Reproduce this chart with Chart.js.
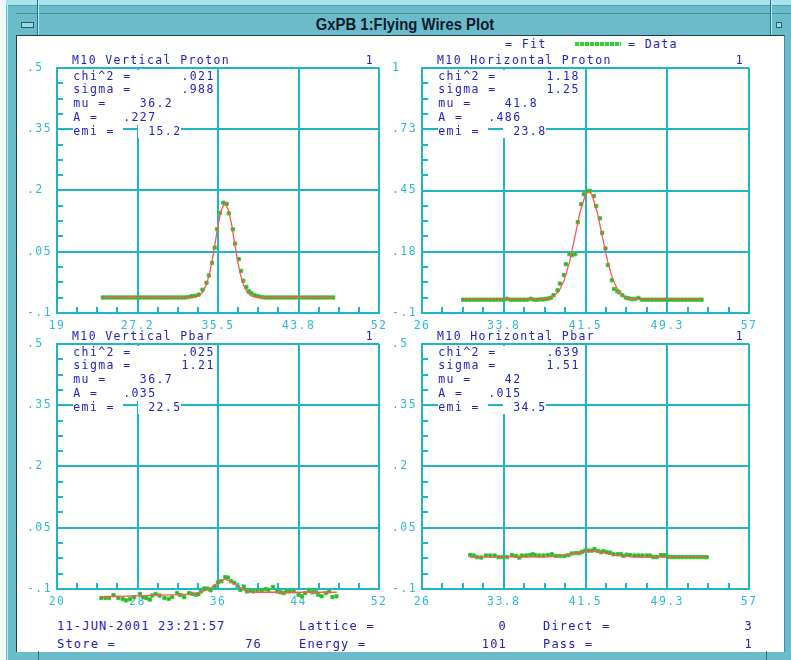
<!DOCTYPE html>
<html><head><meta charset="utf-8">
<script src="https://cdn.jsdelivr.net/npm/chart.js@4.4.1/dist/chart.umd.min.js"></script>
<style>
html,body{margin:0;padding:0;}
body{width:791px;height:660px;position:relative;overflow:hidden;background:#6bbccb;}
.abs{position:absolute;}
.mono{position:absolute;font-family:'DejaVu Sans Mono',monospace;font-size:11.5px;letter-spacing:1.4px;color:#2222c2;line-height:13px;white-space:pre;}
.stat{position:absolute;font-family:'DejaVu Sans Mono',monospace;font-size:12px;letter-spacing:1.2px;color:#2020bc;line-height:14px;white-space:pre;}
canvas{position:absolute;}
#ttl{position:absolute;left:39px;top:14px;width:731px;height:21px;line-height:21px;text-align:center;}
#ttl span{display:inline-block;transform:scaleX(0.93);font-family:'Liberation Sans',sans-serif;font-weight:bold;font-size:16px;color:#0d1a2a;}
</style></head>
<body>
<div class="abs" style="left:0;top:0;width:791px;height:5px;background:#a9e2ea"></div>
<div class="abs" style="left:0;top:0;width:6px;height:660px;background:#eef9fb"></div>
<div class="abs" style="left:7px;top:5px;width:784px;height:1px;background:#4f9fad"></div>
<div class="abs" style="left:7px;top:5px;width:1px;height:655px;background:#b5ecf2"></div>
<div class="abs" style="left:16px;top:13px;width:775px;height:1px;background:#3f8f9d"></div>
<div class="abs" style="left:37px;top:0;width:1px;height:36px;background:#2f6f7a"></div>
<div class="abs" style="left:38px;top:0;width:1px;height:36px;background:#b5ecf2"></div>
<div class="abs" style="left:770px;top:0;width:1px;height:36px;background:#2f6f7a"></div>
<div class="abs" style="left:771px;top:0;width:1px;height:36px;background:#b5ecf2"></div>
<div class="abs" style="left:21px;top:22px;width:11px;height:4px;background:#9ad8e2;border:1px solid #2c5c66"></div>
<div class="abs" style="left:776px;top:22px;width:4px;height:4px;background:#9ad8e2;border:1px solid #2c5c66"></div>
<div id="ttl"><span>GxPB 1:Flying Wires Plot</span></div>
<div class="abs" style="left:16px;top:35px;width:767px;height:616px;background:#ffffff;border-left:1px solid #1f3d44;border-top:1px solid #1f3d44;border-right:1px solid #3f8f9d"></div>
<div class="abs" style="left:38px;top:651px;width:1px;height:9px;background:#2f6f7a"></div>
<div class="abs" style="left:766px;top:651px;width:1px;height:9px;background:#2f6f7a"></div>

<div class="mono" style="left:505px;top:38px">= Fit</div>
<div class="abs" style="left:575px;top:42px;width:46px;height:4px;background:repeating-linear-gradient(90deg,#2bd42b 0 4px,#ffffff 4px 5px)"></div>
<div class="mono" style="left:628px;top:38px">= Data</div>

<canvas id="c1" width="365" height="285" style="left:27px;top:50px"></canvas>
<canvas id="c2" width="378" height="285" style="left:392px;top:50px"></canvas>
<canvas id="c3" width="365" height="285" style="left:27px;top:326px"></canvas>
<canvas id="c4" width="378" height="285" style="left:392px;top:326px"></canvas>

<div class="stat" style="left:57px;top:619px">11-JUN-2001 23:21:57</div>
<div class="stat" style="left:299px;top:619px">Lattice =</div>
<div class="stat" style="right:284px;top:619px">0</div>
<div class="stat" style="left:543px;top:619px">Direct =</div>
<div class="stat" style="right:38px;top:619px">3</div>
<div class="stat" style="left:57px;top:637px">Store =</div>
<div class="stat" style="right:529px;top:637px">76</div>
<div class="stat" style="left:299px;top:637px">Energy =</div>
<div class="stat" style="right:284px;top:637px">101</div>
<div class="stat" style="left:543px;top:637px">Pass =</div>
<div class="stat" style="right:38px;top:637px">1</div>

<script>
// ---------- data ----------
const statNames = ['chi^2 =', 'sigma =', 'mu =', 'A =', 'emi ='];

// Panel 1: M10 Vertical Proton
const vpTitle = 'M10 Vertical Proton';
const vpStats = ['.021', '.988', '36.2', '.227', '15.2'];
const vpXTicks = [19, 27.25, 35.5, 43.75, 52];
const vpXLabels = ['19', '27.2', '35.5', '43.8', '52'];
const vpX = [23.7, 24.05, 24.4, 24.75, 25.1, 25.45, 25.8, 26.15, 26.5, 26.85, 27.2, 27.55, 27.9, 28.25, 28.6, 28.95, 29.3, 29.65, 30.0, 30.35, 30.7, 31.05, 31.4, 31.75, 32.1, 32.45,
  32.8, 33.14, 33.51, 33.91, 34.32, 34.56, 34.89, 35.16, 35.4, 35.7, 36.04, 36.38, 36.61, 37.01, 37.25, 37.62, 37.86, 38.09, 38.4, 38.66, 38.93, 39.27, 39.61,
  39.95, 40.3, 40.65, 41.0, 41.35, 41.7, 42.05, 42.4, 42.75, 43.1, 43.45, 43.8, 44.15, 44.5, 44.85, 45.2, 45.55, 45.9, 46.25, 46.6, 46.95, 47.3];
const vpY = [-0.062, -0.062, -0.062, -0.062, -0.062, -0.062, -0.062, -0.062, -0.062, -0.062, -0.062, -0.062, -0.062, -0.062, -0.062, -0.062, -0.062, -0.062, -0.062, -0.062, -0.062, -0.062, -0.062, -0.062, -0.062, -0.061,
  -0.059, -0.058, -0.055, -0.043, -0.026, -0.008, 0.023, 0.060, 0.105, 0.145, 0.170, 0.167, 0.144, 0.105, 0.070, 0.032, 0.003, -0.021, -0.036, -0.047, -0.052, -0.057, -0.059,
  -0.061, -0.062, -0.062, -0.062, -0.062, -0.062, -0.062, -0.062, -0.062, -0.062, -0.062, -0.062, -0.062, -0.062, -0.062, -0.062, -0.062, -0.062, -0.062, -0.062, -0.062, -0.062];
const vpFitX = [23.7, 32.8, 33.5, 33.9, 34.3, 34.6, 34.9, 35.2, 35.5, 35.8, 36.2, 36.6, 36.9, 37.2, 37.5, 37.8, 38.1, 38.5, 38.9, 39.6, 47.3];
const vpFitY = [-0.062, -0.062, -0.058, -0.050, -0.031, -0.006, 0.029, 0.071, 0.115, 0.150, 0.170, 0.150, 0.115, 0.071, 0.029, -0.006, -0.031, -0.050, -0.058, -0.062, -0.062];

// Panel 2: M10 Horizontal Proton
const hpTitle = 'M10 Horizontal Proton';
const hpStats = ['1.18', '1.25', '41.8', '.486', '23.8'];
const hpXTicks = [26, 33.75, 41.5, 49.25, 57];
const hpXLabels = ['26', '33.8', '41.5', '49.3', '57'];
const hpYTicks = [-0.1, 0.175, 0.45, 0.725, 1];
const hpYLabels = ['-.1', '.18', '.45', '.73', '1'];
const hpX = [29.9, 30.22, 30.54, 30.86, 31.18, 31.5, 31.82, 32.14, 32.46, 32.78, 33.1, 33.42, 33.74, 34.06, 34.38, 34.7, 35.02, 35.34, 35.66, 35.98, 36.3, 36.62, 36.94, 37.26, 37.5,
  37.74, 37.99, 38.22, 38.47, 38.85, 39.07, 39.45, 39.64, 39.98, 40.21, 40.52, 40.77, 41.09, 41.34, 41.66, 41.91, 42.29, 42.51, 42.86, 43.08, 43.39, 43.62, 44.0, 44.21, 44.5, 44.69, 45.0, 45.32, 45.57, 45.89, 46.2, 46.52,
  46.84, 47.16, 47.48, 47.8, 48.12, 48.44, 48.76, 49.08, 49.4, 49.72, 50.04, 50.36, 50.68, 51.0, 51.32, 51.64, 51.96, 52.28, 52.5];
const hpY = [-0.040, -0.040, -0.040, -0.040, -0.040, -0.040, -0.040, -0.040, -0.040, -0.040, -0.040, -0.040, -0.040, -0.036, -0.040, -0.040, -0.040, -0.040, -0.040, -0.040, -0.036, -0.040, -0.040, -0.039, -0.039,
  -0.037, -0.035, -0.031, -0.020, 0.002, 0.032, 0.070, 0.119, 0.164, 0.160, 0.164, 0.308, 0.389, 0.433, 0.448, 0.448, 0.425, 0.380, 0.325, 0.260, 0.190, 0.115, 0.047, 0.008, -0.002, -0.007, -0.020, -0.031, -0.034, -0.038, -0.037, -0.032,
  -0.040, -0.040, -0.040, -0.040, -0.040, -0.040, -0.040, -0.040, -0.040, -0.040, -0.040, -0.040, -0.040, -0.040, -0.040, -0.040, -0.040, -0.040, -0.040];
const hpFitX = [29.9, 37.0, 38.0, 38.5, 39.0, 39.5, 40.0, 40.5, 41.0, 41.5, 41.8, 42.1, 42.6, 43.1, 43.6, 44.1, 44.6, 45.1, 45.6, 46.6, 52.5];
const hpFitY = [-0.038, -0.038, -0.035, -0.025, 0.000, 0.049, 0.132, 0.243, 0.356, 0.432, 0.446, 0.432, 0.356, 0.243, 0.132, 0.049, 0.000, -0.025, -0.035, -0.038, -0.038];

// Panel 3: M10 Vertical Pbar
const vbTitle = 'M10 Vertical Pbar';
const vbStats = ['.025', '1.21', '36.7', '.035', '22.5'];
const vbXTicks = [20, 28, 36, 44, 52];
const vbXLabels = ['20', '28', '36', '44', '52'];
const vbX = [24.41, 24.83, 25.16, 25.61, 26.10, 26.53, 26.86, 27.25, 27.67, 28.23, 28.55, 28.88, 29.21, 29.47, 29.80, 30.19, 30.68, 31.10, 31.43, 31.92, 32.24, 32.64, 33.13, 33.45, 33.81, 34.04, 34.30, 34.63, 34.95, 35.25, 35.67, 36.00, 36.33, 36.72, 36.98, 37.31, 37.63, 37.96, 38.22, 38.55, 38.87, 39.17, 39.50, 39.92, 40.34, 40.74, 41.00, 41.45, 41.88, 42.21, 42.53, 42.79, 43.12, 43.51, 44.00, 44.33, 44.66, 45.05, 45.37, 45.70, 45.96, 46.29, 46.71, 47.04, 47.37, 47.76];
const vbY = [-0.122, -0.122, -0.122, -0.115, -0.122, -0.125, -0.128, -0.125, -0.120, -0.112, -0.120, -0.122, -0.126, -0.116, -0.112, -0.116, -0.122, -0.124, -0.120, -0.110, -0.115, -0.120, -0.110, -0.112, -0.114, -0.113, -0.106, -0.099, -0.099, -0.103, -0.094, -0.084, -0.081, -0.071, -0.072, -0.081, -0.085, -0.094, -0.102, -0.094, -0.106, -0.104, -0.106, -0.103, -0.103, -0.100, -0.102, -0.095, -0.106, -0.108, -0.110, -0.106, -0.106, -0.106, -0.114, -0.118, -0.110, -0.102, -0.108, -0.107, -0.114, -0.118, -0.110, -0.106, -0.120, -0.118];
const vbFitX = [24.41, 28.0, 32.0, 33.5, 34.5, 35.3, 36.0, 36.7, 37.3, 38.0, 38.7, 39.3, 44.0, 47.8];
const vbFitY = [-0.119, -0.117, -0.114, -0.112, -0.106, -0.097, -0.084, -0.076, -0.082, -0.094, -0.104, -0.108, -0.108, -0.108];

// Panel 4: M10 Horizontal Pbar
const hbTitle = 'M10 Horizontal Pbar';
const hbStats = ['.639', '1.51', '42', '.015', '34.5'];
const hbXTicks = [26, 33.75, 41.5, 49.25, 57];
const hbXLabels = ['26', '33.8', '41.5', '49.3', '57'];
const hbX = [30.57, 30.89, 31.21, 31.62, 32.06, 32.47, 32.88, 33.26, 33.64, 34.05, 34.52, 34.90, 35.22, 35.47, 35.88, 36.26, 36.51, 36.73, 37.11, 37.52, 37.93, 38.31, 38.69, 39.10, 39.51, 39.89, 40.20, 40.58, 40.90, 41.15, 41.47, 41.78, 42.10, 42.35, 42.67, 42.98, 43.20, 43.52, 43.83, 44.15, 44.56, 44.88, 45.10, 45.41, 45.73, 46.14, 46.52, 46.90, 47.31, 47.62, 47.94, 48.26, 48.67, 48.98, 49.30, 49.68,
  50.0, 50.35, 50.7, 51.05, 51.4, 51.75, 52.1, 52.45, 52.8, 53.0];
const hbY = [-0.017, -0.018, -0.022, -0.023, -0.018, -0.018, -0.018, -0.022, -0.022, -0.022, -0.017, -0.019, -0.023, -0.018, -0.018, -0.017, -0.015, -0.017, -0.018, -0.018, -0.017, -0.015, -0.019, -0.019, -0.019, -0.017, -0.013, -0.012, -0.012, -0.009, -0.006, -0.006, -0.006, -0.002, -0.007, -0.010, -0.007, -0.010, -0.011, -0.015, -0.015, -0.015, -0.019, -0.016, -0.017, -0.018, -0.018, -0.018, -0.018, -0.018, -0.022, -0.022, -0.017, -0.017, -0.021, -0.022,
  -0.022, -0.022, -0.022, -0.022, -0.022, -0.022, -0.022, -0.022, -0.022, -0.022];
const hbFitX = [30.57, 38.0, 39.0, 40.0, 41.0, 42.0, 43.0, 44.0, 45.0, 46.0, 47.0, 53.0];
const hbFitY = [-0.022, -0.021, -0.019, -0.015, -0.010, -0.007, -0.010, -0.015, -0.019, -0.021, -0.022, -0.022];

// shared y ticks for the 0.5 panels
const yTicksA = [-0.1, 0.05, 0.2, 0.35, 0.5];
const yLabelsA = ['-.1', '.05', '.2', '.35', '.5'];

// ---------- styles ----------
const GRID = '#1fb5c8';
const TICK = '#30bad3';
const TEXT = '#2222c2';
const FIT = '#ff5656';
const PT_BORDER = '#2bd42b';
const PT_FILL = '#43a043';
const FONT = { family: "'DejaVu Sans Mono', monospace", size: 11.5 };
const FONT_CSS = "11.5px 'DejaVu Sans Mono', monospace";
const LS = '1.4px';
const ROW_COLS = [13, 13, 8, 6, 9];

function zip(xs, ys) { return xs.map((x, i) => ({ x: x, y: ys[i] })); }

function panelPlugin(p) {
  let saved = null;
  return {
    id: 'panel',
    beforeDraw(chart) { chart.ctx.letterSpacing = LS; },
    beforeDatasetDraw(chart) {
      // let points just outside the plot box (below -.1) still be drawn
      saved = chart.chartArea;
      chart.chartArea = { left: saved.left - 30, top: saved.top - 30, right: saved.right + 30, bottom: saved.bottom + 30,
        width: saved.width + 60, height: saved.height + 60 };
    },
    afterDatasetDraw(chart) { if (saved) { chart.chartArea = saved; saved = null; } },
    afterDraw(chart) {
      const ctx = chart.ctx, a = chart.chartArea;
      const xs = chart.scales.x, ys = chart.scales.y;
      ctx.save();
      ctx.strokeStyle = GRID; ctx.lineWidth = 2;
      ctx.beginPath();
      for (let i = 0; i < p.xTicks.length - 1; i++) {
        for (let k = 1; k < 4; k++) {
          const v = p.xTicks[i] + (p.xTicks[i + 1] - p.xTicks[i]) * k / 4;
          const px = Math.round(xs.getPixelForValue(v));
          ctx.moveTo(px, a.bottom); ctx.lineTo(px, a.bottom - 6);
        }
      }
      for (let i = 0; i < p.yTicks.length - 1; i++) {
        for (let k = 1; k < 4; k++) {
          const v = p.yTicks[i] + (p.yTicks[i + 1] - p.yTicks[i]) * k / 4;
          const py = Math.round(ys.getPixelForValue(v));
          ctx.moveTo(a.left, py); ctx.lineTo(a.left + 6, py);
        }
      }
      ctx.stroke();

      ctx.font = FONT_CSS; ctx.letterSpacing = LS;
      ctx.textBaseline = 'middle';
      ctx.fillStyle = TEXT;
      ctx.textAlign = 'left';
      ctx.fillText(p.title, a.left + 15, a.top - 7);
      ctx.textAlign = 'right';
      ctx.fillText('1', a.right - 5, a.top - 7);
      ctx.textAlign = 'left';

      const PITCH = 8.32, X0 = 16.3, Y0 = 8.8, DY = 13.7;
      p.stats.forEach((val, r) => {
        const y = a.top + Y0 + r * DY;
        const col = ROW_COLS[r];
        const end = col + val.length;
        const bgs = r === 4 ? [[0, 6], [7.8, end]] : [[0, end]];
        ctx.fillStyle = '#ffffff';
        bgs.forEach(([c0, c1]) => {
          const x0 = Math.round(a.left + X0 + c0 * PITCH), x1 = Math.round(a.left + X0 + c1 * PITCH);
          const y0 = Math.round(y - DY / 2), y1 = Math.round(y + DY / 2);
          ctx.fillRect(x0, y0, x1 - x0, y1 - y0);
        });
        ctx.fillStyle = TEXT;
        ctx.fillText(statNames[r], a.left + X0, y);
        ctx.fillText(val, a.left + X0 + col * PITCH, y);
      });
      ctx.restore();
    }
  };
}

function makePanel(id, p) {
  const canvas = document.getElementById(id);
  new Chart(canvas, {
    type: 'scatter',
    data: {
      datasets: [
        { label: 'Fit', data: zip(p.fitX, p.fitY), showLine: true, pointRadius: 0, borderColor: FIT, borderWidth: 1.3, tension: 0, order: 0, clip: false },
        { label: 'Data', data: zip(p.dataX, p.dataY), showLine: false, pointStyle: 'rect', pointRadius: 2.3, borderWidth: 1, borderColor: PT_BORDER, backgroundColor: PT_FILL, order: 1, clip: false }
      ]
    },
    options: {
      responsive: false, animation: false, devicePixelRatio: 1,
      layout: { padding: { top: p.padTop, right: p.padRight, left: 0, bottom: 0 } },
      plugins: { legend: { display: false }, tooltip: { enabled: false } },
      scales: {
        x: {
          type: 'linear', position: 'bottom', min: p.xMin, max: p.xMax,
          afterBuildTicks: s => { s.ticks = p.xTicks.map(v => ({ value: v })); },
          afterFit: s => { s.height = p.xAxisH; },
          grid: { color: GRID, lineWidth: 2, drawTicks: false },
          border: { display: true, color: GRID, width: 2 },
          ticks: { color: TICK, font: FONT, padding: 6, maxRotation: 0, autoSkip: false, callback: (v, i) => p.xLabels[i] }
        },
        y: {
          type: 'linear', position: 'left', min: p.yMin, max: p.yMax,
          afterBuildTicks: s => { s.ticks = p.yTicks.map(v => ({ value: v })); },
          afterFit: s => { s.width = p.yAxisW; },
          grid: { color: GRID, lineWidth: 2, drawTicks: false },
          border: { display: true, color: GRID, width: 2 },
          ticks: { color: TICK, font: FONT, padding: 0, crossAlign: 'far', autoSkip: false, callback: (v, i) => p.yLabels[i] }
        }
      }
    },
    plugins: [panelPlugin(p)]
  });
}

makePanel('c1', { title: vpTitle, stats: vpStats, dataX: vpX, dataY: vpY, fitX: vpFitX, fitY: vpFitY,
  xMin: 19, xMax: 52, yMin: -0.1, yMax: 0.5, xTicks: vpXTicks, xLabels: vpXLabels, yTicks: yTicksA, yLabels: yLabelsA,
  padTop: 18, padRight: 9, yAxisW: 30, xAxisH: 22 });
makePanel('c2', { title: hpTitle, stats: hpStats, dataX: hpX, dataY: hpY, fitX: hpFitX, fitY: hpFitY,
  xMin: 26, xMax: 57, yMin: -0.1, yMax: 1, xTicks: hpXTicks, xLabels: hpXLabels, yTicks: hpYTicks, yLabels: hpYLabels,
  padTop: 18, padRight: 21, yAxisW: 30, xAxisH: 22 });
makePanel('c3', { title: vbTitle, stats: vbStats, dataX: vbX, dataY: vbY, fitX: vbFitX, fitY: vbFitY,
  xMin: 20, xMax: 52, yMin: -0.1, yMax: 0.5, xTicks: vbXTicks, xLabels: vbXLabels, yTicks: yTicksA, yLabels: yLabelsA,
  padTop: 18, padRight: 9, yAxisW: 30, xAxisH: 22 });
makePanel('c4', { title: hbTitle, stats: hbStats, dataX: hbX, dataY: hbY, fitX: hbFitX, fitY: hbFitY,
  xMin: 26, xMax: 57, yMin: -0.1, yMax: 0.5, xTicks: hbXTicks, xLabels: hbXLabels, yTicks: yTicksA, yLabels: yLabelsA,
  padTop: 18, padRight: 21, yAxisW: 30, xAxisH: 22 });
</script>
</body></html>
